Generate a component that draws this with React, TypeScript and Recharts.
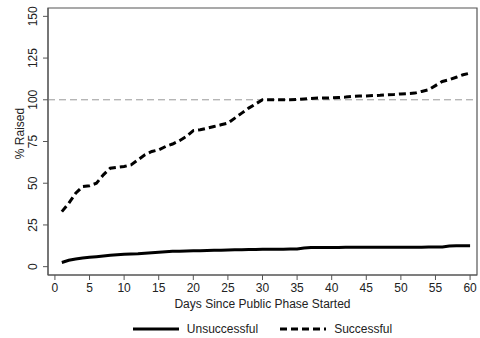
import {
  LineChart,
  Line,
  XAxis,
  YAxis,
  ReferenceLine,
  ReferenceArea,
  Legend,
} from "recharts";

const days = [
  1, 2, 3, 4, 5, 6, 7, 8, 9, 10, 11, 12, 13, 14, 15, 16, 17, 18, 19, 20,
  21, 22, 23, 24, 25, 26, 27, 28, 29, 30, 31, 32, 33, 34, 35, 36, 37, 38, 39, 40,
  41, 42, 43, 44, 45, 46, 47, 48, 49, 50, 51, 52, 53, 54, 55, 56, 57, 58, 59, 60,
];

const unsuccessful = [
  2.5, 3.8, 4.6, 5.2, 5.6, 6, 6.4, 6.8, 7.1, 7.4, 7.6, 7.8, 8.1, 8.4, 8.7, 9, 9.2, 9.3, 9.4, 9.5,
  9.6, 9.7, 9.8, 9.9, 10, 10.1, 10.2, 10.3, 10.3, 10.4, 10.4, 10.5, 10.5, 10.6, 10.6, 11.2, 11.5, 11.5, 11.5, 11.5,
  11.5, 11.6, 11.6, 11.6, 11.6, 11.6, 11.7, 11.7, 11.7, 11.7, 11.7, 11.7, 11.7, 11.8, 11.8, 11.8, 12.4, 12.5, 12.5, 12.5,
];

const successful = [
  33, 38, 44, 48, 48.5, 50, 55, 59, 59.5, 60, 61, 64, 67, 69, 70, 72, 73.5, 75.5, 78, 81.5,
  82, 83, 84, 85, 86, 89, 92, 95, 97.5, 100, 100, 100, 100, 100, 100.2, 100.5, 100.8, 101, 101, 101.2,
  101.4, 101.6, 102, 102.2, 102.3, 102.5, 102.7, 103, 103.2, 103.5, 103.7, 104, 105, 106, 108.5, 111, 112, 113.5, 115, 116,
];

const xTicks = [0, 5, 10, 15, 20, 25, 30, 35, 40, 45, 50, 55, 60];
const yTicks = [0, 25, 50, 75, 100, 125, 150];

const data = days.map((d, i) => ({
  day: d,
  unsuccessful: unsuccessful[i],
  successful: successful[i],
}));

const FONT = "'Liberation Sans', Arial, sans-serif";
const TEXT = "#222";
const FRAME = "#555";

const YTick = (props: any) => {
  const { x, y, payload } = props;
  const cx = x - 8;
  return (
    <text
      x={cx}
      y={y}
      transform={`rotate(-90, ${cx}, ${y})`}
      textAnchor="middle"
      dominantBaseline="central"
      fontSize={12}
      fontFamily={FONT}
      fill={TEXT}
    >
      {payload.value}
    </text>
  );
};

const YTitle = (props: any) => {
  const vb = props.viewBox;
  const cy = vb.y + vb.height / 2 - 8;
  return (
    <text
      x={20}
      y={cy}
      transform={`rotate(-90, 20, ${cy})`}
      textAnchor="middle"
      dominantBaseline="central"
      fontSize={12}
      fontFamily={FONT}
      fill={TEXT}
    >
      % Raised
    </text>
  );
};

const XTitle = (props: any) => {
  const vb = props.viewBox;
  return (
    <text
      x={vb.x + vb.width / 2}
      y={vb.y + 29}
      textAnchor="middle"
      dominantBaseline="central"
      fontSize={12}
      fontFamily={FONT}
      fill={TEXT}
    >
      Days Since Public Phase Started
    </text>
  );
};

const LegendBox = () => (
  <div
    style={{
      width: 480,
      display: "flex",
      justifyContent: "center",
      alignItems: "center",
      paddingLeft: 45,
      paddingTop: 3,
      boxSizing: "border-box",
      fontFamily: FONT,
      fontSize: 12,
      color: TEXT,
      height: 22,
    }}
  >
    <svg width={46} height={8} style={{ marginRight: 8 }}>
      <line x1={0} y1={4} x2={46} y2={4} stroke="#000" strokeWidth={3} />
    </svg>
    <span style={{ marginRight: 22 }}>Unsuccessful</span>
    <svg width={46} height={8} style={{ marginRight: 8 }}>
      <line
        x1={0}
        y1={4}
        x2={46}
        y2={4}
        stroke="#000"
        strokeWidth={3}
        strokeDasharray="7 4"
      />
    </svg>
    <span>Successful</span>
  </div>
);

export default function App() {
  return (
    <div style={{ position: "absolute", left: 0, top: 0, background: "#fff" }}>
      <LineChart
        width={480}
        height={338}
        data={data}
        margin={{ top: 8, right: 3, left: 0, bottom: 0 }}
      >
        <ReferenceArea
          x1={-1}
          x2={61}
          y1={-5}
          y2={155}
          fill="none"
          stroke={FRAME}
          strokeWidth={1.2}
          ifOverflow="visible"
        />
        <XAxis
          dataKey="day"
          type="number"
          domain={[-1, 61]}
          ticks={xTicks}
          allowDataOverflow
          height={41}
          tickSize={5}
          tickMargin={3}
          stroke={FRAME}
          tick={{ fontSize: 12, fontFamily: FONT, fill: TEXT }}
          label={<XTitle />}
        />
        <YAxis
          type="number"
          domain={[-5, 155]}
          ticks={yTicks}
          allowDataOverflow
          width={48}
          tickSize={5}
          stroke={FRAME}
          tick={<YTick />}
          label={<YTitle />}
        />
        <ReferenceLine
          y={100}
          stroke="#999"
          strokeDasharray="7 4"
          strokeWidth={1}
        />
        <Line
          type="linear"
          dataKey="unsuccessful"
          stroke="#000"
          strokeWidth={3}
          dot={false}
          isAnimationActive={false}
        />
        <Line
          type="linear"
          dataKey="successful"
          stroke="#000"
          strokeWidth={3}
          strokeDasharray="7 4"
          dot={false}
          isAnimationActive={false}
        />
        <Legend
          verticalAlign="bottom"
          height={22}
          content={<LegendBox />}
          wrapperStyle={{ left: 0, width: 480 }}
        />
      </LineChart>
    </div>
  );
}
